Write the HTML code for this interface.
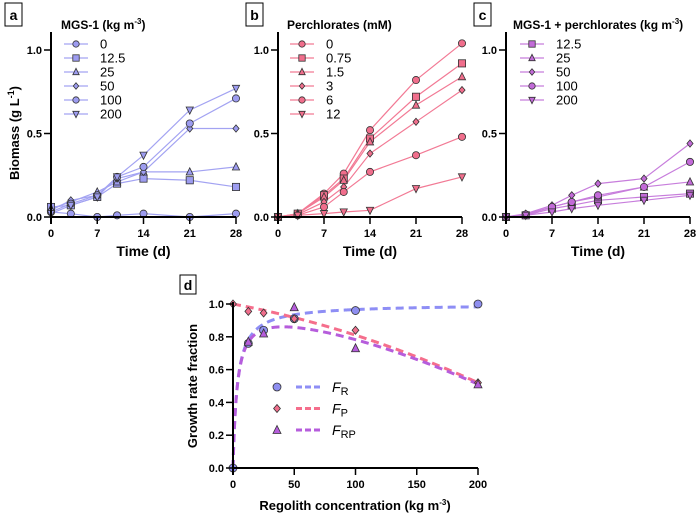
<!DOCTYPE html>
<html><head><meta charset="utf-8"><style>
body{margin:0;background:#fff;}
svg text{font-family:"Liberation Sans",Arial,sans-serif;}
</style></head><body>
<svg id="fig" width="698" height="516" viewBox="0 0 698 516" xmlns="http://www.w3.org/2000/svg"></svg>
<script>
const days=[0,3,7,10,14,21,28];
const timeTicks=[0,7,14,21,28];
const yTicksTop=[0,0.5,1.0];
const aLabels=["0","12.5","25","50","100","200"];
const aShapes=["circle","square","triangle","diamond","circle","tridown"];
const a0=[0.03,0.02,0.0,0.01,0.02,0.0,0.02];
const a125=[0.06,0.07,0.12,0.20,0.23,0.22,0.18];
const a25=[0.05,0.09,0.15,0.21,0.27,0.27,0.30];
const a50=[0.04,0.10,0.13,0.23,0.27,0.53,0.53];
const a100=[0.03,0.08,0.13,0.24,0.30,0.56,0.71];
const a200=[0.02,0.07,0.12,0.24,0.37,0.64,0.77];
const bLabels=["0","0.75","1.5","3","6","12"];
const bShapes=["circle","square","triangle","diamond","circle","tridown"];
const b0=[0,0.02,0.14,0.26,0.52,0.82,1.04];
const b075=[0,0.02,0.13,0.23,0.47,0.72,0.92];
const b15=[0,0.02,0.12,0.22,0.45,0.67,0.84];
const b3=[0,0.015,0.09,0.18,0.38,0.57,0.76];
const b6=[0,0.01,0.06,0.15,0.27,0.37,0.48];
const b12=[0,0.01,0.02,0.03,0.04,0.17,0.24];
const cLabels=["12.5","25","50","100","200"];
const cShapes=["square","triangle","diamond","circle","tridown"];
const c125=[0,0.01,0.05,0.07,0.10,0.12,0.14];
const c25=[0,0.015,0.06,0.09,0.12,0.18,0.21];
const c50=[0,0.02,0.07,0.13,0.20,0.23,0.44];
const c100=[0,0.015,0.06,0.09,0.13,0.18,0.33];
const c200=[0,0.01,0.03,0.05,0.07,0.10,0.13];
const dXTicks=[0,50,100,150,200];
const dYTicks=[0,0.2,0.4,0.6,0.8,1.0];
const frX=[0,12.5,25,50,100,200];
const frY=[0,0.76,0.84,0.91,0.96,1.0];
const fpX=[0,12.5,25,50,100,200];
const fpY=[1.0,0.955,0.945,0.91,0.84,0.52];
const frpX=[12.5,25,50,100,200];
const frpY=[0.77,0.82,0.98,0.73,0.51];

const NS="http://www.w3.org/2000/svg";
const svg=document.getElementById('fig');
function mk(tag,attrs,parent,name){const e=document.createElementNS(NS,tag);for(const k in attrs)e.setAttribute(k,attrs[k]);


(parent||svg).appendChild(e);return e;}
function txt(x,y,s,size,anchor,parent,name,weight){const t=mk('text',{x:x,y:y,'font-size':size,'text-anchor':anchor||'middle','font-weight':weight||'normal',fill:'#000'},parent,name);t.textContent=s;return t;}
function marker(g,shape,x,y,fill,stroke,r,name){r=r||3.6;let e;
 if(shape==='circle')e=mk('circle',{cx:x,cy:y,r:r},g,name);
 else if(shape==='square')e=mk('rect',{x:x-r,y:y-r,width:2*r,height:2*r},g,name);
 else if(shape==='triangle')e=mk('polygon',{points:`${x},${y-r-0.5} ${x-r},${y+r-0.5} ${x+r},${y+r-0.5}`},g,name);
 else if(shape==='tridown')e=mk('polygon',{points:`${x},${y+r+0.5} ${x-r},${y-r+0.5} ${x+r},${y-r+0.5}`},g,name);
 else e=mk('polygon',{points:`${x},${y-r} ${x+r*0.85},${y} ${x},${y+r} ${x-r*0.85},${y}`},g,name);
 e.setAttribute('fill',fill);e.setAttribute('stroke',stroke);e.setAttribute('stroke-width',0.8);return e;}

function timePanel(id,x0,x1,series,labels,shapes,fill,line,title,titleX,boxX,letter,showYTitle,legendX){
 const g=mk('g',{},svg,'panel-'+id);
 const yb=217,yt=50;
 const sx=d=>x0+(x1-x0)*d/28, sy=v=>yb-(yb-yt)*v;
 mk('rect',{x:boxX,y:3,width:17,height:23,fill:'none',stroke:'#000','stroke-width':1},g,'panel-label-box-'+id);
 txt(boxX+8.5,20,letter,14,'middle',g,'panel-label-'+id,'bold');
 series.forEach((s,i)=>{
  const pts=s.map((v,j)=>sx(days[j])+','+sy(v)).join(' ');
  mk('polyline',{points:pts,fill:'none',stroke:line,'stroke-width':1.2},g,'series-line-'+id+'-'+labels[i]);
 });
 series.forEach((s,i)=>{s.forEach((v,j)=>marker(g,shapes[i],sx(days[j]),sy(v),fill,'#333',3.6,'point-'+id+'-'+labels[i]));});
 mk('line',{x1:x0,y1:32,x2:x0,y2:yb+7,stroke:'#000','stroke-width':2},g,'y-axis-'+id);
 mk('line',{x1:x0,y1:yb,x2:x1,y2:yb,stroke:'#000','stroke-width':2},g,'x-axis-'+id);
 yTicksTop.forEach(v=>{mk('line',{x1:x0-7,y1:sy(v),x2:x0,y2:sy(v),stroke:'#000','stroke-width':1.5},g,'y-tick-'+id);
  txt(x0-9,sy(v)+4,v.toFixed(1),11,'end',g,'y-tick-label-'+id,'bold');});
 timeTicks.forEach(d=>{mk('line',{x1:sx(d),y1:yb,x2:sx(d),y2:yb+7,stroke:'#000','stroke-width':1.5},g,'x-tick-'+id);
  txt(sx(d),yb+20,String(d),11,'middle',g,'x-tick-label-'+id,'bold');});
 txt((x0+x1)/2,256,'Time (d)',14,'middle',g,'x-axis-title-'+id,'bold');
 if(showYTitle){const t=mk('text',{x:0,y:0,'font-size':13,'font-weight':'bold','text-anchor':'middle',transform:'translate(19,133) rotate(-90)'},g,'y-axis-title');
  t.innerHTML='Biomass (g L<tspan font-size="9" dy="-5">-1</tspan><tspan dy="5">)</tspan>';}
 const tt=mk('text',{x:titleX,y:29,'font-size':12,'font-weight':'bold'},g,'legend-title-'+id);tt.innerHTML=title;
 labels.forEach((l,i)=>{const y=44+14*i;
  mk('line',{x1:legendX,y1:y,x2:legendX+24,y2:y,stroke:line,'stroke-width':1.2},g,'legend-line-'+id);
  marker(g,shapes[i],legendX+12,y,fill,'#333',3.2,'legend-marker-'+id);
  txt(legendX+36,y+4.5,l,13,'start',g,'legend-entry-'+id);});
}
timePanel('a',51,236,[a0,a125,a25,a50,a100,a200],aLabels,aShapes,'#9d9cf0','#a3a3f2','MGS-1 (kg m<tspan font-size="8" dy="-5">-3</tspan><tspan dy="5">)</tspan>',61,5,'a',true,64);
timePanel('b',278,462,[b0,b075,b15,b3,b6,b12],bLabels,bShapes,'#f06e8c','#f27a95','Perchlorates (mM)',287,246,'b',false,290);
timePanel('c',506,690,[c125,c25,c50,c100,c200],cLabels,cShapes,'#c26ad8','#c77ddc','MGS-1 + perchlorates (kg m<tspan font-size="8" dy="-5">-3</tspan><tspan dy="5">)</tspan>',513,474,'c',false,520);

(function(){
 const g=mk('g',{},svg,'panel-d');
 const x0=233,x1=478,yb=468,yt=304;
 const sx=v=>x0+(x1-x0)*v/200, sy=v=>yb-(yb-yt)*v;
 mk('rect',{x:180,y:275,width:16,height:19,fill:'none',stroke:'#000','stroke-width':1},g,'panel-label-box-d');
 txt(188,290,'d',14,'middle',g,'panel-label-d','bold');
 const fr=x=>x/(3.5+x), fp=x=>1-0.0014*x-0.000005*x*x, frp=x=>fr(x)*fp(x);
 const curves=[[fr,'#8e8ef5','curve-fr'],[fp,'#f56e8c','curve-fp'],[frp,'#b65ddc','curve-frp']];
 curves.forEach(c=>{let p=[];for(let x=0;x<=200;x+=0.5)p.push(sx(x)+','+sy(c[0](x)));
  mk('polyline',{points:p.join(' '),fill:'none',stroke:c[1],'stroke-width':3,'stroke-dasharray':'8,5'},g,c[2]);});
 frX.forEach((x,i)=>marker(g,'circle',sx(x),sy(frY[i]),'#8e8ef0','#333',4,'point-fr'));
 fpX.forEach((x,i)=>marker(g,'diamond',sx(x),sy(fpY[i]),'#f06e8c','#333',4,'point-fp'));
 frpX.forEach((x,i)=>marker(g,'triangle',sx(x),sy(frpY[i]),'#b65ddc','#333',4,'point-frp'));
 mk('line',{x1:x0,y1:yt-2,x2:x0,y2:yb+7,stroke:'#000','stroke-width':2},g,'y-axis-d');
 mk('line',{x1:x0,y1:yb,x2:x1,y2:yb,stroke:'#000','stroke-width':2},g,'x-axis-d');
 dYTicks.forEach(v=>{mk('line',{x1:x0-7,y1:sy(v),x2:x0,y2:sy(v),stroke:'#000','stroke-width':1.5},g,'y-tick-d');
  txt(x0-9,sy(v)+4,v.toFixed(1),11,'end',g,'y-tick-label-d','bold');});
 dXTicks.forEach(v=>{mk('line',{x1:sx(v),y1:yb,x2:sx(v),y2:yb+7,stroke:'#000','stroke-width':1.5},g,'x-tick-d');
  txt(sx(v),yb+20,String(v),11,'middle',g,'x-tick-label-d','bold');});
 const xt=mk('text',{x:355,y:510,'font-size':13,'font-weight':'bold','text-anchor':'middle'},g,'x-axis-title-d');
 xt.innerHTML='Regolith concentration (kg m<tspan font-size="8" dy="-5">-3</tspan><tspan dy="5">)</tspan>';
 const yt2=mk('text',{x:0,y:0,'font-size':13,'font-weight':'bold','text-anchor':'middle',transform:'translate(197,386) rotate(-90)'},g,'y-axis-title-d');
 yt2.textContent='Growth rate fraction';
 const leg=[['circle','#8e8ef0','#8e8ef5','R'],['diamond','#f06e8c','#f56e8c','P'],['triangle','#b65ddc','#b65ddc','RP']];
 leg.forEach((l,i)=>{const y=387+21.5*i;
  marker(g,l[0],277,y,l[1],'#333',4,'legend-marker-d');
  mk('line',{x1:296,y1:y,x2:320,y2:y,stroke:l[2],'stroke-width':3,'stroke-dasharray':'6,3'},g,'legend-line-d');
  const t=mk('text',{x:332,y:y+5,'font-size':14},g,'legend-entry-d');
  t.innerHTML='<tspan font-style="italic">F</tspan><tspan font-size="11" dy="3">'+l[3]+'</tspan>';});
})();
</script>
</body></html>
